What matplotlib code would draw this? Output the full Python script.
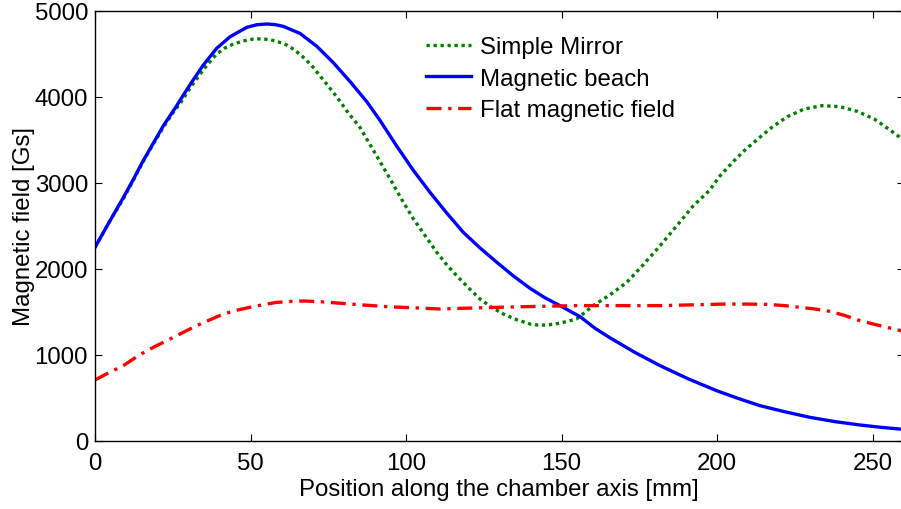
import matplotlib
matplotlib.use("Agg")
import matplotlib.pyplot as plt

plt.rcParams['font.family'] = ['Liberation Sans', 'DejaVu Sans']

# Simple Mirror (green dotted)
mirror_x = [0, 4.8, 9.1, 12.3, 15.5, 18.7, 22, 25.5, 27.3, 30.5, 33.8, 36.5, 39.1, 41.8,
            44.5, 47.7, 50.9, 53.6, 56.3, 59, 61.6, 64.3, 67, 69.7, 72.3, 74.5, 76.6, 78.8,
            80.9, 83, 85.2, 90, 94.9, 98.6, 102.4, 106.2, 109.9, 113.1, 116.3, 120,
            123.8, 127.5, 131.3, 135.6, 139.9, 142.5, 145.2, 148, 150.6, 154.9,
            160.2, 165.6, 171, 176.3, 181.7, 187, 192.4, 197.5, 201, 205, 209, 213.5,
            217.9, 222.6, 228, 233.7, 239.5, 245.1, 250.6, 255.6, 260]
mirror_y = [2252, 2560, 2815, 3030, 3250, 3450, 3650, 3840, 3919, 4100, 4267, 4390, 4500,
            4570, 4616, 4652, 4674, 4676, 4666, 4640, 4605, 4545, 4461, 4365, 4248, 4150,
            4054, 3950, 3841, 3745, 3647, 3350, 3047, 2810, 2581, 2385, 2194, 2050,
            1922, 1785, 1651, 1555, 1477, 1410, 1360, 1348, 1349, 1360, 1380, 1420,
            1574, 1700, 1845, 2050, 2271, 2500, 2736, 2911, 3085, 3240, 3384, 3523,
            3655, 3771, 3860, 3899, 3888, 3833, 3744, 3616, 3500]

# Magnetic beach (blue solid)
beach_x = [0, 4.8, 9.1, 12.3, 15.5, 18.7, 22, 26.3, 27.3, 31.6, 34.8, 39.1, 43.4, 48.8,
           52, 55.2, 57.8, 60.5, 65.9, 71.3, 76.6, 82, 87.4, 91.6, 97, 102.3,
           107.7, 113, 118.4, 123.8, 129.2, 134.5, 139.9, 144.7, 149.5, 156, 160.8,
           165.6, 173.6, 181.7, 190.8, 199.9, 206.8, 213.8, 221.8, 229.9, 238, 246,
           252.5, 260]
beach_y = [2252, 2560, 2830, 3040, 3260, 3460, 3667, 3900, 3960, 4200, 4370, 4565, 4700, 4810,
           4840, 4849, 4842, 4822, 4740, 4590, 4400, 4180, 3945, 3730, 3430, 3150,
           2892, 2655, 2427, 2245, 2078, 1920, 1775, 1665, 1574, 1445, 1310,
           1200, 1030, 876, 722, 585, 495, 411, 340, 275, 225, 186,
           160, 135]

# Flat magnetic field (red dash-dot)
flat_x = [0, 4.5, 9.1, 12.8, 16.6, 20.9, 25.2, 29, 32.7, 37, 41.3, 45.5, 49.8, 54.1, 58.4,
          62.7, 67, 72.3, 77.7, 86, 95, 103, 110.9, 120, 130, 142, 154.9,
          168, 181.7, 192, 203.1, 210, 216, 221.5, 226.7, 231, 235.3, 240.6, 246,
          252.5, 260]
flat_y = [710, 795, 876, 965, 1050, 1128, 1205, 1275, 1341, 1410, 1477, 1520, 1554, 1585,
          1612, 1622, 1628, 1620, 1605, 1582, 1560, 1548, 1535, 1545, 1555, 1565, 1574,
          1574, 1574, 1583, 1593, 1592, 1589, 1575, 1554, 1537, 1515, 1465, 1399,
          1340, 1275]

xticks = [0, 50, 100, 150, 200, 250]
yticks = [0, 1000, 2000, 3000, 4000, 5000]

fig = plt.figure(figsize=(9.01, 5.10), dpi=100)
W, H = 901, 510
left_px, right_px, top_px, bot_px = 95, 903.6, 12, 442
ax = fig.add_axes([left_px / W, 1 - bot_px / H, (right_px - left_px) / W, (bot_px - top_px) / H])

lw = 2.4
ax.plot(mirror_x, mirror_y, color='#008000', lw=lw, linestyle=(0, (1, 1.1)),
        label='Simple Mirror')
ax.plot(beach_x, beach_y, color='#0000ff', lw=lw, linestyle='-', label='Magnetic beach')
ax.plot(flat_x, flat_y, color='#ff0000', lw=lw, linestyle=(0, (4.5, 2, 1, 2)),
        label='Flat magnetic field')

fs = 17.3
ax.set_xlim(0, 260)
ax.set_ylim(0, 5000)
ax.set_xticks(xticks)
ax.set_yticks(yticks)
ax.tick_params(direction='in', length=5, width=0.8, labelsize=fs, top=True, right=True)
ax.tick_params(axis='x', pad=8)
ax.tick_params(axis='y', pad=5)
for s in ax.spines.values():
    s.set_linewidth(1.0)

ax.set_xlabel('Position along the chamber axis [mm]', fontsize=fs, labelpad=3)
ax.set_ylabel('Magnetic field [Gs]', fontsize=fs, labelpad=0)

leg = ax.legend(loc='upper left', bbox_to_anchor=(0.382, 0.992), frameon=False,
                fontsize=fs, handlelength=1.9, handletextpad=0.35, labelspacing=0.4)

fig.savefig('out.png', dpi=100)
